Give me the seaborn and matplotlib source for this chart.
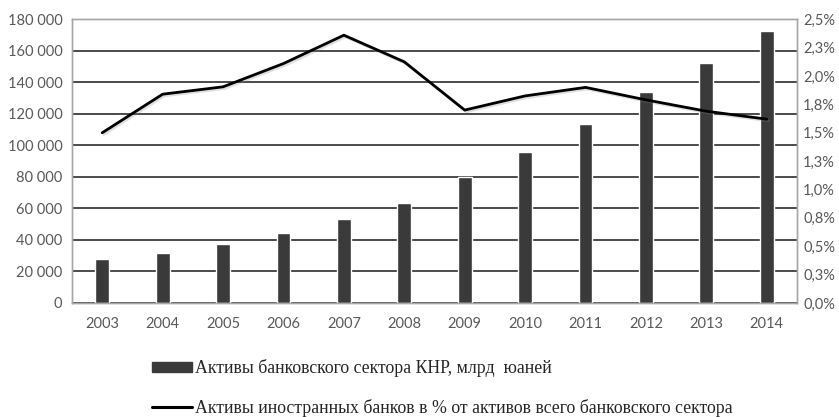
import numpy as np
import pandas as pd
import matplotlib
matplotlib.use("Agg")
import matplotlib.pyplot as plt
import matplotlib.patheffects as pe
from matplotlib.ticker import FixedLocator
from matplotlib.patches import Patch
from matplotlib.lines import Line2D
import seaborn as sns

years = ["2003", "2004", "2005", "2006", "2007", "2008",
         "2009", "2010", "2011", "2012", "2013", "2014"]
assets = [27900, 31800, 37500, 44300, 53400, 63500,
          79700, 95900, 113300, 133900, 152100, 172500]
foreign_share = [1.50, 1.84, 1.905, 2.11, 2.36, 2.125,
                 1.70, 1.825, 1.90, 1.79, 1.69, 1.62]

left_ticks = [0, 20000, 40000, 60000, 80000, 100000, 120000, 140000, 160000, 180000]
left_labels = ["0", "20 000", "40 000", "60 000", "80 000", "100 000",
               "120 000", "140 000", "160 000", "180 000"]
right_ticks = [0, 0.25, 0.5, 0.75, 1.0, 1.25, 1.5, 1.75, 2.0, 2.25, 2.5]
right_labels = ["0,0%", "0,3%", "0,5%", "0,8%", "1,0%", "1,3%",
                "1,5%", "1,8%", "2,0%", "2,3%", "2,5%"]

bar_label = "Активы банковского сектора КНР, млрд  юаней"
line_label = "Активы иностранных банков в % от активов всего банковского сектора"

sns.set_theme(style="white")
plt.rcParams["font.family"] = ["Lato", "DejaVu Sans"]

df = pd.DataFrame({"year": years, "assets": assets, "share": foreign_share})
df["pos"] = np.arange(len(df))

fig = plt.figure(figsize=(8.39, 4.17), dpi=100)
ax = fig.add_axes([72 / 839, 1 - 303 / 417, (797 - 72) / 839, (303 - 19.3) / 417])

bar_color = "#3a3a3a"
sns.barplot(data=df, x="year", y="assets", color=bar_color, saturation=1,
            width=0.23, ax=ax, zorder=3)
ax.set_xlim(-0.5, len(years) - 0.5)
ax.set_ylim(0, 180000)
ax.yaxis.set_major_locator(FixedLocator(left_ticks))
ax.set_yticklabels(left_labels)
ax.grid(axis="y", color="#1a1a1a", linewidth=1.1, zorder=0)
ax.set_axisbelow(True)
ax.set_xlabel("")
ax.set_ylabel("")

ax2 = ax.twinx()
sns.lineplot(data=df, x="pos", y="share", color="black", linewidth=2.0, ax=ax2,
             path_effects=[pe.SimpleLineShadow(offset=(1.2, -1.2), alpha=0.25,
                                               shadow_color="gray"), pe.Normal()])
ax2.set_ylim(0, 2.5)
ax2.yaxis.set_major_locator(FixedLocator(right_ticks))
ax2.set_yticklabels(right_labels)
ax2.set_xlim(-0.5, len(years) - 0.5)
ax2.set_ylabel("")
ax2.set_xlabel("")
ax2.grid(False)

for a in (ax, ax2):
    for s in a.spines.values():
        s.set_color("#a6a6a6")
        s.set_linewidth(1.0)
    a.tick_params(length=0, labelsize=10.5, labelcolor="#595959")

ax.tick_params(axis="x", pad=10)
ax.tick_params(axis="y", pad=7)
ax2.tick_params(axis="y", pad=4.5)

handles = [Patch(facecolor=bar_color, edgecolor=bar_color, label=bar_label),
           Line2D([0], [0], color="black", linewidth=2.2, label=line_label)]
fig.legend(handles=handles, loc="center left",
           bbox_to_anchor=(152 / 839, (417 - 388) / 417),
           frameon=False, borderpad=0, borderaxespad=0,
           handlelength=2.25, handleheight=0.45, handletextpad=0.17,
           labelspacing=1.2,
           prop={"family": ["Liberation Serif", "DejaVu Serif"], "size": 12.8})

fig.savefig("out.png", dpi=100)
